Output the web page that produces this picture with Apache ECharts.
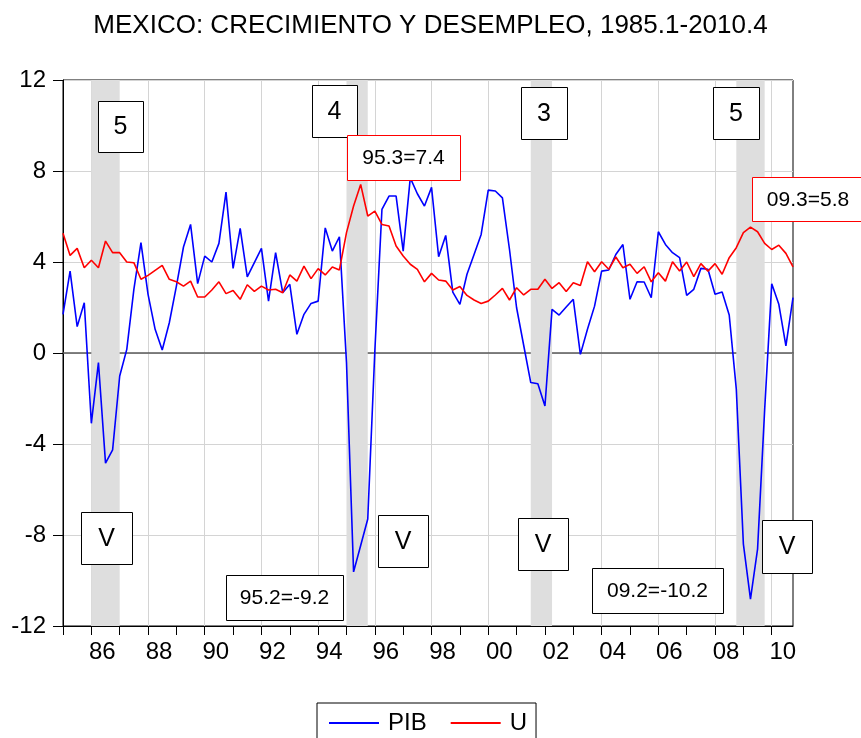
<!DOCTYPE html>
<html>
<head>
<meta charset="utf-8">
<title>Mexico: crecimiento y desempleo</title>
<script src="https://cdn.jsdelivr.net/npm/echarts@6/dist/echarts.min.js"></script>
<style>
html, body { margin: 0; padding: 0; background: #fff; }
#chart { width: 861px; height: 738px; }
</style>
</head>
<body>
<div id="chart"></div>
<script>
// trimestres 1985.1 - 2010.4
var quarters = [];
for (var y = 1985; y <= 2010; y++) {
  for (var q = 1; q <= 4; q++) quarters.push(y + 'Q' + q);
}

// crecimiento del PIB (%)
var pib = [
  1.70, 3.60, 1.16, 2.21, -3.09, -0.42, -4.84, -4.26, -1.01, 0.16,
  2.80, 4.85, 2.58, 1.04, 0.13, 1.33, 2.94, 4.66, 5.65, 3.05,
  4.26, 4.00, 4.82, 7.07, 3.72, 5.48, 3.35, 3.97, 4.60, 2.28,
  4.41, 2.65, 3.02, 0.82, 1.70, 2.18, 2.28, 5.50, 4.48, 5.11,
  -0.42, -9.62, -8.46, -7.30, 0.10, 6.31, 6.90, 6.90, 4.48, 7.70,
  7.00, 6.46, 7.28, 4.23, 5.17, 2.68, 2.14, 3.46, 4.33, 5.21,
  7.16, 7.12, 6.82, 4.55, 1.99, 0.34, -1.30, -1.35, -2.33, 1.92,
  1.67, 2.02, 2.36, -0.06, 1.04, 2.06, 3.60, 3.65, 4.33, 4.77,
  2.36, 3.13, 3.12, 2.43, 5.33, 4.77, 4.41, 4.19, 2.53, 2.80,
  3.72, 3.68, 2.58, 2.68, 1.67, -1.59, -8.40, -10.82, -8.62, -2.50,
  3.04, 2.14, 0.31, 2.43
];

// tasa de desempleo (%)
var desempleo = [
  5.26, 4.29, 4.60, 3.75, 4.08, 3.75, 4.92, 4.41, 4.41, 4.00,
  3.97, 3.24, 3.41, 3.63, 3.85, 3.24, 3.13, 2.94, 3.16, 2.46,
  2.46, 2.77, 3.13, 2.61, 2.75, 2.36, 3.00, 2.71, 2.94, 2.77,
  2.80, 2.65, 3.43, 3.16, 3.82, 3.27, 3.71, 3.43, 3.78, 3.65,
  5.29, 6.46, 7.41, 6.02, 6.24, 5.65, 5.58, 4.70, 4.26, 3.90,
  3.68, 3.13, 3.50, 3.21, 3.16, 2.77, 2.92, 2.53, 2.33, 2.18,
  2.28, 2.55, 2.84, 2.33, 2.87, 2.55, 2.80, 2.80, 3.24, 2.84,
  3.09, 2.70, 3.09, 2.97, 4.01, 3.57, 4.01, 3.68, 4.22, 3.75,
  3.90, 3.50, 3.79, 3.13, 3.53, 3.16, 4.01, 3.60, 4.00, 3.36,
  3.93, 3.60, 3.93, 3.46, 4.19, 4.63, 5.29, 5.53, 5.33, 4.82,
  4.55, 4.74, 4.38, 3.79
];

// recesiones sombreadas
var recesiones = [
  ['1986Q1', '1987Q1'],
  ['1995Q1', '1995Q4'],
  ['2001Q3', '2002Q2'],
  ['2008Q4', '2009Q4']
];

var FONT = '"Liberation Sans", Arial, sans-serif';

// cajas de texto (posicion en pixeles)
var cajas = [
  { t: '5', x: 98, y: 101, w: 45, h: 51, fs: 25 },
  { t: '4', x: 312, y: 85, w: 45, h: 52, fs: 25 },
  { t: '3', x: 521, y: 87, w: 46, h: 52, fs: 25 },
  { t: '5', x: 713, y: 87, w: 46, h: 52, fs: 25 },
  { t: '95.3=7.4', x: 347, y: 135, w: 113, h: 45, fs: 21, red: true },
  { t: '09.3=5.8', x: 752, y: 177, w: 112, h: 44, fs: 21, red: true },
  { t: 'V', x: 81, y: 512, w: 51, h: 52, fs: 25 },
  { t: 'V', x: 378, y: 515, w: 50, h: 52, fs: 25 },
  { t: 'V', x: 518, y: 518, w: 50, h: 52, fs: 25 },
  { t: 'V', x: 762, y: 520, w: 50, h: 53, fs: 25 },
  { t: '95.2=-9.2', x: 226, y: 575, w: 117, h: 45, fs: 21 },
  { t: '09.2=-10.2', x: 592, y: 568, w: 131, h: 45, fs: 21 }
];

var graphics = [];
cajas.forEach(function (c) {
  graphics.push({
    type: 'rect', z: 100,
    shape: { x: c.x + 0.5, y: c.y + 0.5, width: c.w, height: c.h },
    style: { fill: '#fff', stroke: c.red ? '#ff0000' : '#000', lineWidth: 1 }
  });
  graphics.push({
    type: 'text', z: 101,
    x: c.x + c.w / 2, y: c.y + c.h / 2 + 1,
    style: { text: c.t, fill: '#000', font: c.fs + 'px ' + FONT, align: 'center', verticalAlign: 'middle' }
  });
});

var myChart = echarts.init(document.getElementById('chart'));

myChart.setOption({
  animation: false,
  backgroundColor: '#fff',
  title: {
    text: 'MEXICO: CRECIMIENTO Y DESEMPLEO, 1985.1-2010.4',
    left: 'center',
    top: 8,
    textStyle: { fontSize: 26, fontWeight: 'normal', color: '#000', fontFamily: FONT }
  },
  legend: {
    data: ['PIB', 'U'],
    left: 317,
    top: 703,
    padding: [8, 9, 20, 12],
    icon: 'rect',
    itemWidth: 50,
    itemHeight: 2,
    itemGap: 24,
    borderColor: '#000',
    borderWidth: 1,
    textStyle: { fontSize: 24, color: '#000', fontFamily: FONT, padding: [0, 0, 0, 4] }
  },
  grid: {
    left: 63,
    right: 68,
    top: 80,
    bottom: 112,
    show: true,
    borderColor: '#000',
    borderWidth: 1,
    backgroundColor: '#fff'
  },
  xAxis: [{
    type: 'category',
    data: quarters,
    boundaryGap: false,
    axisLine: { show: true, onZero: false, lineStyle: { color: '#000', width: 1 } },
    axisTick: {
      show: true,
      interval: 3,
      length: 9,
      lineStyle: { color: '#000' }
    },
    axisLabel: {
      interval: function (i) { return i % 8 === 4; },
      formatter: function (v) { return v.slice(2, 4); },
      fontSize: 24,
      color: '#000',
      fontFamily: FONT,
      margin: 14,
      padding: [0, 0, 0, 22]
    },
    splitLine: {
      show: true,
      interval: function (i) { return i % 8 === 4; },
      lineStyle: { color: '#d4d4d4', width: 1 }
    }
  }, {
    // linea del cero
    type: 'category',
    data: quarters,
    boundaryGap: false,
    position: 'bottom',
    axisLine: { onZero: true, lineStyle: { color: '#5a5a5a', width: 1.5 } },
    axisTick: { show: false },
    axisLabel: { show: false },
    splitLine: { show: false }
  }],
  yAxis: {
    type: 'value',
    min: -12,
    max: 12,
    interval: 4,
    axisLine: { show: true, lineStyle: { color: '#000', width: 1 } },
    axisTick: { show: true, length: 10, lineStyle: { color: '#000' } },
    axisLabel: { fontSize: 24, color: '#000', fontFamily: FONT, margin: 17 },
    splitLine: { lineStyle: { color: '#d4d4d4', width: 1 } }
  },
  series: [{
    name: 'PIB',
    type: 'line',
    data: pib,
    symbol: 'none',
    lineStyle: { color: '#0000ff', width: 1.6 },
    itemStyle: { color: '#0000ff' },
    markArea: {
      silent: true,
      itemStyle: { color: '#dedede' },
      data: recesiones.map(function (r) { return [{ xAxis: r[0] }, { xAxis: r[1] }]; })
    }
  }, {
    name: 'U',
    type: 'line',
    data: desempleo,
    symbol: 'none',
    lineStyle: { color: '#ff0000', width: 1.6 },
    itemStyle: { color: '#ff0000' }
  }],
  graphic: graphics
});
</script>
</body>
</html>
